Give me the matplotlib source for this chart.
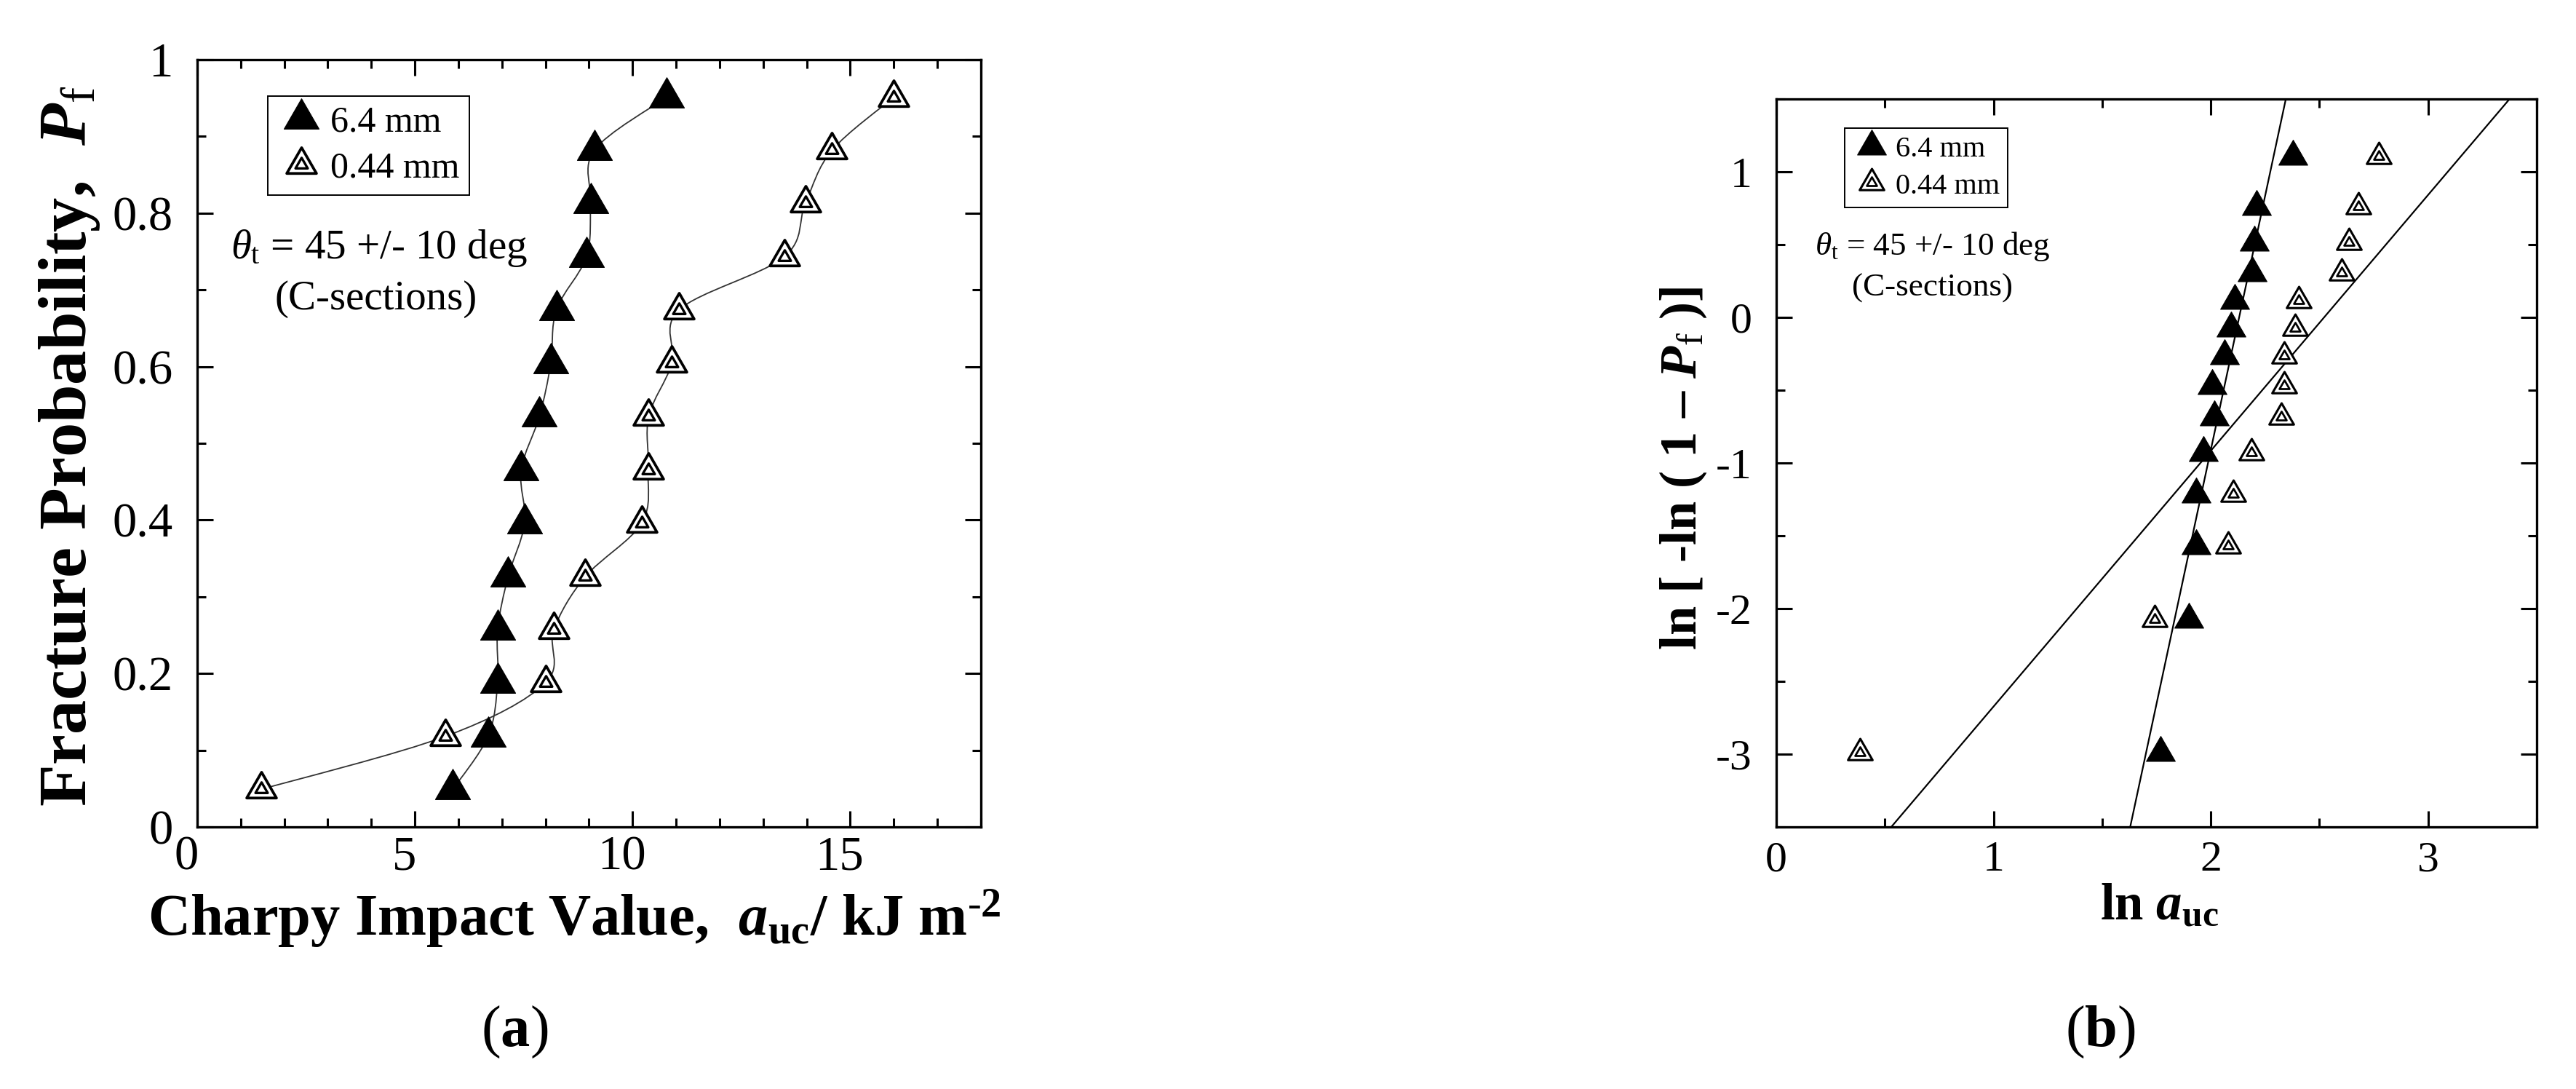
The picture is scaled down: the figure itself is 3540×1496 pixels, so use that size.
import numpy as np
import matplotlib
matplotlib.use("Agg")
import matplotlib.pyplot as plt
from matplotlib.path import Path
from matplotlib.patches import PathPatch
from matplotlib.markers import MarkerStyle
from matplotlib.legend_handler import HandlerTuple
from matplotlib.transforms import ScaledTranslation
from matplotlib.ticker import MultipleLocator, FuncFormatter

# --- data ---
# fracture probability (median rank) shared by both specimen sizes
PF = [0.049, 0.118, 0.188, 0.257, 0.326, 0.396, 0.465,
      0.535, 0.604, 0.674, 0.743, 0.813, 0.882, 0.951]
# Charpy impact values a_uc / kJ m^-2
AUC_64 = [5.87, 6.68, 6.90, 6.90, 7.14, 7.52, 7.44,
          7.86, 8.12, 8.25, 8.94, 9.04, 9.12, 10.78]
AUC_044 = [1.47, 5.70, 8.00, 8.19, 8.91, 10.21, 10.36,
           10.37, 10.90, 11.07, 13.48, 13.97, 14.58, 16.00]
SERIES_LABELS = ["6.4 mm", "0.44 mm"]
# straight Weibull fits drawn in panel (b): y = slope * x + intercept
FIT_SLOPE = [6.98, 1.757]
FIT_INTERCEPT = [-14.87, -4.43]

plt.rcParams["font.family"] = ["Liberation Serif", "DejaVu Serif"]
plt.rcParams["mathtext.fontset"] = "custom"
plt.rcParams["mathtext.rm"] = "Liberation Serif"
plt.rcParams["mathtext.it"] = "Liberation Serif:italic"
plt.rcParams["mathtext.bf"] = "Liberation Serif:bold"
plt.rcParams["mathtext.bfit"] = "Liberation Serif:bold:italic"
plt.rcParams["axes.unicode_minus"] = False

# equilateral triangle centred on its centroid
TRI = MarkerStyle(Path([(-1, -0.577), (1, -0.577), (0, 1.155), (-1, -0.577)],
                       [Path.MOVETO, Path.LINETO, Path.LINETO, Path.CLOSEPOLY]),
                  joinstyle="miter")


def draw_points(ax, x, y, filled, ms):
    if filled:
        h, = ax.plot(x, y, ls="none", marker=TRI, ms=ms, mfc="black",
                     mec="black", mew=0.8, zorder=4)
        return h
    outer, = ax.plot(x, y, ls="none", marker=TRI, ms=ms * 0.85, mfc="white",
                     mec="black", mew=2.7 * ms / 40, zorder=4)
    inner, = ax.plot(x, y, ls="none", marker=TRI, ms=ms * 0.35, mfc="white",
                     mec="black", mew=2.4 * ms / 40, zorder=5)
    return (outer, inner)


def smooth_path(x, y):
    # Catmull-Rom curve through the points, drawn as cubic Bezier segments
    p = np.column_stack([x, y])
    ext = np.vstack([p[0], p, p[-1]])
    verts, codes = [p[0]], [Path.MOVETO]
    for i in range(len(p) - 1):
        p0, p1, p2, p3 = ext[i], ext[i + 1], ext[i + 2], ext[i + 3]
        verts += [p1 + (p2 - p0) / 6, p2 - (p3 - p1) / 6, p2]
        codes += [Path.CURVE4] * 3
    return Path(verts, codes)


def style_axes(ax, tick_size, pad_x, pad_y):
    for s in ax.spines.values():
        s.set_linewidth(2.4)
    ax.tick_params(which="both", direction="in", top=True, right=True,
                   width=2.2, labelsize=tick_size)
    ax.tick_params(which="major", length=16)
    ax.tick_params(which="minor", length=8.5)
    ax.tick_params(axis="x", pad=pad_x)
    ax.tick_params(axis="y", pad=pad_y)
    fmt = FuncFormatter(lambda v, p: f"{v:g}")
    ax.xaxis.set_major_formatter(fmt)
    ax.yaxis.set_major_formatter(fmt)


def add_legend(ax, handles, x, y, size):
    leg = ax.legend(handles, SERIES_LABELS, loc="upper left",
                    bbox_to_anchor=(x, y), borderaxespad=0, fontsize=size,
                    frameon=True, fancybox=False, framealpha=1,
                    edgecolor="black", numpoints=1, borderpad=0.27,
                    handlelength=1.3, handletextpad=0.16, labelspacing=0.33,
                    handler_map={tuple: HandlerTuple(ndivide=1, pad=0)})
    leg.get_frame().set_linewidth(1.4)
    return leg


fig = plt.figure(figsize=(35.4, 14.96), dpi=100)
ax1 = fig.add_axes([0.07655, 0.24064, 0.30424, 0.70455])
ax2 = fig.add_axes([0.68955, 0.24064, 0.29520, 0.66845])

# --- panel (a): cumulative fracture probability ---
for auc in (AUC_64, AUC_044):
    ax1.add_patch(PathPatch(smooth_path(auc, PF), fill=False,
                            edgecolor="#333333", lw=1.3, zorder=2))
h64 = draw_points(ax1, AUC_64, PF, True, 40)
h044 = draw_points(ax1, AUC_044, PF, False, 40)

ax1.set_xlim(0, 18)
ax1.set_ylim(0, 1)
ax1.xaxis.set_major_locator(MultipleLocator(5))
ax1.xaxis.set_minor_locator(MultipleLocator(1))
ax1.yaxis.set_major_locator(MultipleLocator(0.2))
ax1.yaxis.set_minor_locator(MultipleLocator(0.1))
style_axes(ax1, 48, 8, 24)
shift = ScaledTranslation(-0.15, 0, fig.dpi_scale_trans)
for lab in ax1.get_xticklabels():
    lab.set_transform(lab.get_transform() + shift)

ax1.set_xlabel(r"Charpy Impact Value,  $\mathbfit{a}_\mathbf{uc}$/ kJ m$^{\text{-}\mathbf{2}}$",
               fontsize=58, fontweight="bold", va="baseline")
ax1.xaxis.set_label_coords(0.481, -0.1423)
ax1.set_ylabel(r"Fracture Probability,  $\mathbfit{P}_\mathrm{f}$",
               fontsize=68, fontweight="bold", va="center")
ax1.yaxis.set_label_coords(-0.1634, 0.4962)

add_legend(ax1, [h64, h044], 0.090, 0.9526, 36)
ax1.text(0.232, 0.741, r"$\theta_\mathrm{t}$ = 45 +/- 10 deg", transform=ax1.transAxes,
         fontsize=41, ha="center", va="baseline")
ax1.text(0.2284, 0.6746, "(C-sections)", transform=ax1.transAxes,
         fontsize=41, ha="center", va="baseline")

# --- panel (b): Weibull plot ---
pf = np.array(PF)
weib_y = np.log(-np.log(1 - pf))
for m, b in zip(FIT_SLOPE, FIT_INTERCEPT):
    ax2.axline((0, b), slope=m, color="black", lw=1.6, zorder=2)
g64 = draw_points(ax2, np.log(AUC_64), weib_y, True, 33)
g044 = draw_points(ax2, np.log(AUC_044), weib_y, False, 33)

ax2.set_xlim(0, 3.5)
ax2.set_ylim(-3.5, 1.5)
ax2.xaxis.set_major_locator(MultipleLocator(1))
ax2.xaxis.set_minor_locator(MultipleLocator(0.5))
ax2.yaxis.set_major_locator(MultipleLocator(1))
ax2.yaxis.set_minor_locator(MultipleLocator(0.5))
style_axes(ax2, 43, 14, 24)

ax2.set_xlabel(r"ln $\mathbfit{a}_\mathbf{uc}$", fontsize=51,
               fontweight="bold", va="baseline")
ax2.xaxis.set_label_coords(0.504, -0.128)
ax2.set_ylabel(r"ln [ -ln ( 1 – $\mathbfit{P}_\mathrm{f}$ )]", fontsize=52,
               fontweight="bold", va="center")
ax2.yaxis.set_label_coords(-0.1225, 0.493)

add_legend(ax2, [g64, g044], 0.090, 0.96, 29)
ax2.text(0.2057, 0.786, r"$\theta_\mathrm{t}$ = 45 +/- 10 deg", transform=ax2.transAxes,
         fontsize=32.5, ha="center", va="baseline")
ax2.text(0.2048, 0.729, "(C-sections)", transform=ax2.transAxes,
         fontsize=32.5, ha="center", va="baseline")

# panel captions
fig.text(0.1997, 0.0521, r"($\mathbf{a}$)", fontsize=58, ha="center", va="center")
fig.text(0.8155, 0.0521, r"($\mathbf{b}$)", fontsize=58, ha="center", va="center")

fig.savefig("out.png", dpi=100)
